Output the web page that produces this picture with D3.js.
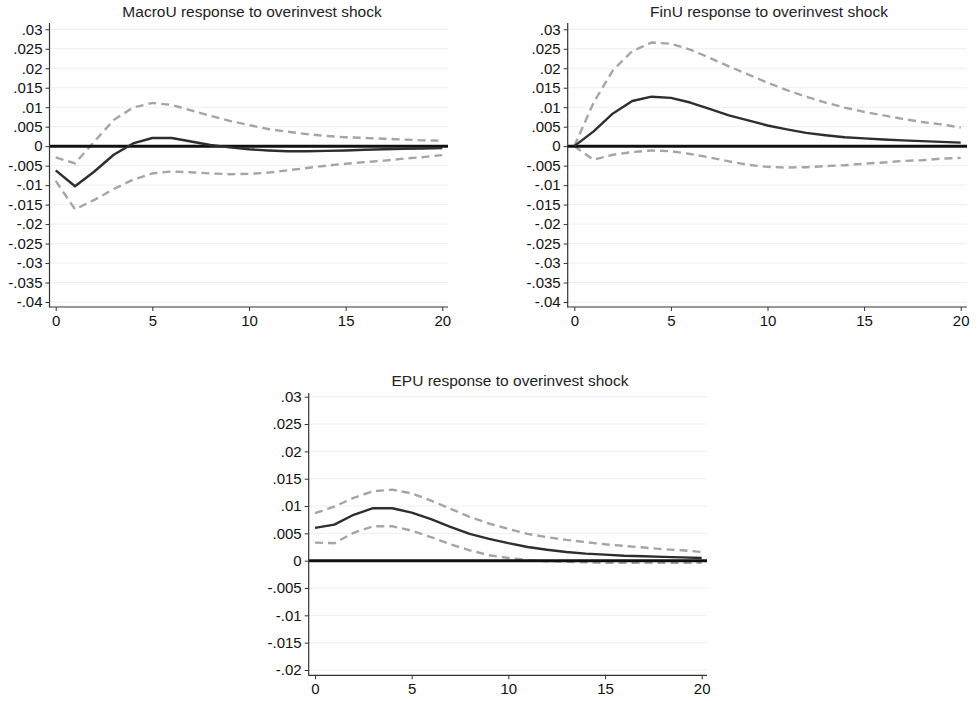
<!DOCTYPE html>
<html>
<head>
<meta charset="utf-8">
<script src="https://cdn.jsdelivr.net/npm/d3@7"></script>
<style>
  html, body { margin: 0; padding: 0; background: #fff; }
  svg { display: block; font-family: "Liberation Sans", Arial, sans-serif; }
</style>
</head>
<body>
<svg id="chart" width="979" height="701"></svg>
<script>
// Impulse-response horizons
const steps = d3.range(0, 21);

// MacroU response: point estimate and confidence band
const macroIrf = [-0.0062, -0.0103, -0.0065, -0.0022, 0.0007, 0.0021, 0.0021, 0.0012, 0.0003, -0.0003, -0.0008,
                  -0.0011, -0.0013, -0.0013, -0.0012, -0.0011, -0.0009, -0.0008, -0.0007, -0.0006, -0.0005];
const macroUpper = [-0.0029, -0.0044, 0.0012, 0.0067, 0.0099, 0.0111, 0.0106, 0.0092, 0.0078, 0.0065, 0.0054,
                    0.0044, 0.0037, 0.0031, 0.0026, 0.0023, 0.0021, 0.0019, 0.0017, 0.0015, 0.0014];
const macroLower = [-0.0089, -0.0162, -0.0138, -0.0110, -0.0086, -0.0070, -0.0065, -0.0067, -0.0070, -0.0072, -0.0071,
                    -0.0068, -0.0062, -0.0056, -0.0050, -0.0045, -0.0041, -0.0037, -0.0032, -0.0028, -0.0023];

// FinU response
const finIrf = [0.0000, 0.0038, 0.0084, 0.0116, 0.0127, 0.0124, 0.0112, 0.0096, 0.0079, 0.0066, 0.0053,
                0.0043, 0.0034, 0.0028, 0.0023, 0.0020, 0.0017, 0.0015, 0.0013, 0.0011, 0.0009];
const finUpper = [0.0000, 0.0112, 0.0195, 0.0244, 0.0266, 0.0263, 0.0248, 0.0227, 0.0205, 0.0184, 0.0163,
                  0.0144, 0.0127, 0.0112, 0.0099, 0.0088, 0.0079, 0.0070, 0.0062, 0.0056, 0.0048];
const finLower = [0.0000, -0.0035, -0.0022, -0.0015, -0.0011, -0.0013, -0.0020, -0.0029, -0.0039, -0.0048, -0.0053,
                  -0.0055, -0.0054, -0.0051, -0.0049, -0.0045, -0.0042, -0.0038, -0.0036, -0.0032, -0.0030];

// EPU response
const epuIrf = [0.0060, 0.0066, 0.0084, 0.0096, 0.0096, 0.0088, 0.0076, 0.0062, 0.0049, 0.0040, 0.0032,
                0.0025, 0.0020, 0.0016, 0.0013, 0.0011, 0.0009, 0.0008, 0.0007, 0.0006, 0.0005];
const epuUpper = [0.0087, 0.0099, 0.0115, 0.0127, 0.0130, 0.0123, 0.0110, 0.0095, 0.0080, 0.0068, 0.0058,
                  0.0049, 0.0043, 0.0038, 0.0034, 0.0030, 0.0027, 0.0024, 0.0021, 0.0019, 0.0016];
const epuLower = [0.0033, 0.0032, 0.0051, 0.0063, 0.0063, 0.0055, 0.0043, 0.0030, 0.0019, 0.0010, 0.0005,
                  0.0001, -0.0001, -0.0002, -0.0003, -0.0004, -0.0004, -0.0004, -0.0004, -0.0004, -0.0004];

// Axis tick values and labels
const xTicks = [0, 5, 10, 15, 20];
const yTicksWide = [0.03, 0.025, 0.02, 0.015, 0.01, 0.005, 0, -0.005, -0.01, -0.015, -0.02, -0.025, -0.03, -0.035, -0.04];
const yTicksNarrow = [0.03, 0.025, 0.02, 0.015, 0.01, 0.005, 0, -0.005, -0.01, -0.015, -0.02];

const titles = ["MacroU response to overinvest shock", "FinU response to overinvest shock", "EPU response to overinvest shock"];

// Stata-style tick label: drop the leading zero, keep sign
function fmtTick(v) {
  if (Math.abs(v) < 1e-12) return "0";
  const s = String(+v.toFixed(4));
  return s.replace(/^(-?)0\./, "$1.");
}

const svg = d3.select("#chart");

function drawPanel(cfg) {
  const g = svg.append("g");
  const x = d3.scaleLinear().domain([0, 20]).range([cfg.x0, cfg.x20]);
  const y = d3.scaleLinear().domain([cfg.yMin, cfg.yMax]).range([cfg.yMinPx, cfg.yMaxPx]);
  const left = cfg.axisX, right = cfg.right, top = cfg.top, bottom = cfg.axisY;

  // light gridlines at each y tick
  g.append("g").selectAll("line").data(cfg.yTicks).join("line")
    .attr("x1", left).attr("x2", right)
    .attr("y1", d => y(d)).attr("y2", d => y(d))
    .attr("stroke", "#efefef").attr("stroke-width", 1);

  // confidence bands
  const line = d3.line().x((d, i) => x(steps[i])).y(d => y(d));
  [cfg.upper, cfg.lower].forEach(arr => {
    g.append("path").datum(arr).attr("d", line)
      .attr("fill", "none").attr("stroke", "#a5a5a5")
      .attr("stroke-width", 2.4).attr("stroke-dasharray", "8,5");
  });

  // zero reference line
  g.append("line").attr("x1", left).attr("x2", right)
    .attr("y1", y(0)).attr("y2", y(0))
    .attr("stroke", "#111").attr("stroke-width", 3);

  // point estimate
  g.append("path").datum(cfg.irf).attr("d", line)
    .attr("fill", "none").attr("stroke", "#2e2e2e").attr("stroke-width", 2.4)
    .attr("stroke-linejoin", "round");

  // y axis
  const yAxis = d3.axisLeft(y).tickValues(cfg.yTicks).tickFormat(fmtTick).tickSize(4).tickPadding(3);
  const ya = g.append("g").attr("transform", `translate(${left},0)`).call(yAxis);
  ya.select(".domain").remove();
  ya.append("line").attr("x1", 0).attr("x2", 0).attr("y1", top).attr("y2", bottom + 0.5)
    .attr("stroke", "#333").attr("stroke-width", 1.2);

  // x axis
  const xAxis = d3.axisBottom(x).tickValues(xTicks).tickFormat(d3.format("d")).tickSize(4).tickPadding(4);
  const xa = g.append("g").attr("transform", `translate(0,${bottom})`).call(xAxis);
  xa.select(".domain").remove();
  xa.append("line").attr("x1", left).attr("x2", right).attr("y1", 0).attr("y2", 0)
    .attr("stroke", "#333").attr("stroke-width", 1.2);

  [ya, xa].forEach(a => {
    a.selectAll(".tick line").attr("stroke", "#333");
    a.selectAll(".tick text").attr("fill", "#111").style("font-size", "15px")
      .style("font-family", "'Liberation Sans', Arial, sans-serif");
  });

  // panel title
  g.append("text").attr("x", cfg.titleX).attr("y", cfg.titleY)
    .attr("text-anchor", "middle").attr("fill", "#222")
    .style("font-size", "15.5px").text(cfg.title);
}

drawPanel({
  title: titles[0], irf: macroIrf, upper: macroUpper, lower: macroLower, yTicks: yTicksWide,
  x0: 55.7, x20: 442.3, yMin: -0.04, yMax: 0.03, yMinPx: 302, yMaxPx: 29.3,
  axisX: 49.5, right: 448, top: 23, axisY: 307, titleX: 252, titleY: 17
});
drawPanel({
  title: titles[1], irf: finIrf, upper: finUpper, lower: finLower, yTicks: yTicksWide,
  x0: 574.3, x20: 960.7, yMin: -0.04, yMax: 0.03, yMinPx: 302, yMaxPx: 29.3,
  axisX: 567.7, right: 967, top: 23, axisY: 307, titleX: 769, titleY: 17
});
drawPanel({
  title: titles[2], irf: epuIrf, upper: epuUpper, lower: epuLower, yTicks: yTicksNarrow,
  x0: 315, x20: 701.7, yMin: -0.02, yMax: 0.03, yMinPx: 670, yMaxPx: 396.7,
  axisX: 308.7, right: 707, top: 393, axisY: 675.3, titleX: 510, titleY: 386
});
</script>
</body>
</html>
